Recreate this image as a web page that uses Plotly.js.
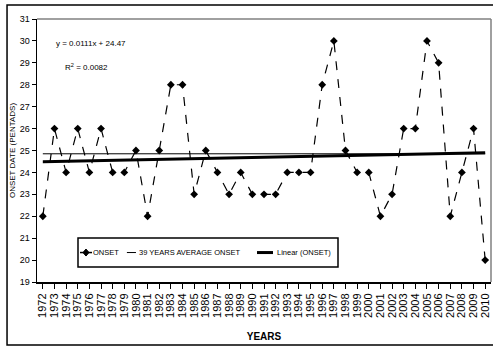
<!DOCTYPE html>
<html>
<head>
<meta charset="utf-8">
<script src="https://cdn.plot.ly/plotly-3.0.1.min.js"></script>
<style>
  html, body { margin: 0; padding: 0; background: #fff; }
  #chart { width: 493px; height: 347px; }
</style>
</head>
<body>
<div id="chart"></div>
<script>
const years = ["1972","1973","1974","1975","1976","1977","1978","1979","1980","1981",
  "1982","1983","1984","1985","1986","1987","1988","1989","1990","1991",
  "1992","1993","1994","1995","1996","1997","1998","1999","2000","2001",
  "2002","2003","2004","2005","2006","2007","2008","2009","2010"];
const onset = [22,26,24,26,24,26,24,24,25,22,
  25,28,28,23,25,24,23,24,23,23,
  23,24,24,24,28,30,25,24,24,22,
  23,26,26,30,29,22,24,26,20];
const averageOnset = 24.85;
const trendSlope = 0.0111;
const trendIntercept = 24.47;
const yTicks = [19,20,21,22,23,24,25,26,27,28,29,30,31];
const seriesNames = ["ONSET", "39 YEARS AVERAGE ONSET", "Linear (ONSET)"];

const idx = years.map((_, i) => i + 1);
const avgVals = idx.map(() => averageOnset);
const trendX = [idx[0], idx[idx.length - 1]];
const trendY = trendX.map(x => trendSlope * x + trendIntercept);

const FONT = "'Liberation Sans Narrow', 'Arial Narrow', 'Liberation Sans', Arial, sans-serif";

const traces = [
  {
    x: idx, y: onset, name: seriesNames[0], type: "scatter", mode: "lines+markers",
    line: { color: "#000", width: 1.2, dash: "dash" },
    marker: { symbol: "diamond", size: 6, color: "#000" }
  },
  {
    x: idx, y: avgVals, name: seriesNames[1], type: "scatter", mode: "lines",
    line: { color: "#000", width: 1 }
  },
  {
    x: trendX, y: trendY, name: seriesNames[2], type: "scatter", mode: "lines",
    line: { color: "#000", width: 3 }
  }
];

// legend geometry (paper coordinates)
const LY = 0.112;
const MX = 0.1079;
const dX = 3 / 454, dY = 3.5 / 263;
const legendShapes = [
  { type: "rect", xref: "paper", yref: "paper", x0: 0.0903, x1: 0.663, y0: 0.057, y1: 0.1673,
    fillcolor: "#fff", line: { color: "#000", width: 1.5 } },
  { type: "line", xref: "paper", yref: "paper", x0: 0.0947, x1: 0.1211, y0: LY, y1: LY,
    line: { color: "#000", width: 1.5 } },
  { type: "path", xref: "paper", yref: "paper",
    path: `M ${MX - dX} ${LY} L ${MX} ${LY + dY} L ${MX + dX} ${LY} L ${MX} ${LY - dY} Z`,
    fillcolor: "#000", line: { color: "#000", width: 1 } },
  { type: "line", xref: "paper", yref: "paper", x0: 0.1980, x1: 0.2180, y0: LY, y1: LY,
    line: { color: "#000", width: 1 } },
  { type: "line", xref: "paper", yref: "paper", x0: 0.4846, x1: 0.5198, y0: LY, y1: LY,
    line: { color: "#000", width: 3 } }
];
const legendTexts = [
  { x: 0.1185, text: seriesNames[0] },
  { x: 0.2210, text: seriesNames[1] },
  { x: 0.5242, text: seriesNames[2] }
].map(t => ({ xref: "paper", yref: "paper", x: t.x, y: LY, xanchor: "left", yanchor: "middle",
  text: t.text, showarrow: false, font: { family: FONT, size: 7.5, color: "#000" } }));

const layout = {
  width: 493, height: 347,
  margin: { l: 37, r: 2, t: 19, b: 65 },
  paper_bgcolor: "#fff", plot_bgcolor: "#fff",
  font: { family: FONT, color: "#000", size: 9 },
  showlegend: false,
  xaxis: {
    range: [0.5, 39.5],
    tickvals: idx, ticktext: years, tickangle: -90,
    tickfont: { family: FONT, size: 11 },
    ticks: "outside", ticklen: 5, tickcolor: "#000",
    showline: true, linecolor: "#000", linewidth: 2,
    showgrid: false, zeroline: false,
    title: { text: "<b>YEARS</b>", font: { family: FONT, size: 10, color: "#000" }, standoff: 16 }
  },
  yaxis: {
    range: [19, 31],
    tickvals: yTicks,
    tickfont: { family: FONT, size: 9 },
    ticks: "outside", ticklen: 4, tickcolor: "#000",
    showline: true, linecolor: "#000", linewidth: 1.5,
    showgrid: false, zeroline: false,
    title: { text: "ONSET DATE (PENTADS)", font: { family: FONT, size: 8, color: "#000" }, standoff: 3 }
  },
  shapes: [
    { type: "line", xref: "paper", yref: "paper", x0: 0, x1: 1, y0: 1, y1: 1, line: { color: "#808080", width: 1.5 } },
    { type: "line", xref: "paper", yref: "paper", x0: 1, x1: 1, y0: 0, y1: 1, line: { color: "#808080", width: 1.5 } },
    { type: "rect", xref: "paper", yref: "paper", x0: -0.066, x1: 1.01, y0: -0.24, y1: 1.053, line: { color: "#000", width: 1.5 }, layer: "below" }
  ].concat(legendShapes),
  annotations: [
    { xref: "paper", yref: "paper", x: 0.038, y: 0.905, xanchor: "left", yanchor: "middle",
      text: "y = 0.0111x + 24.47", showarrow: false, font: { family: FONT, size: 8 } },
    { xref: "paper", yref: "paper", x: 0.058, y: 0.818, xanchor: "left", yanchor: "middle",
      text: "R<sup>2</sup> = 0.0082", showarrow: false, font: { family: FONT, size: 8 } }
  ].concat(legendTexts)
};

Plotly.newPlot("chart", traces, layout, { displayModeBar: false, staticPlot: true });
</script>
</body>
</html>
